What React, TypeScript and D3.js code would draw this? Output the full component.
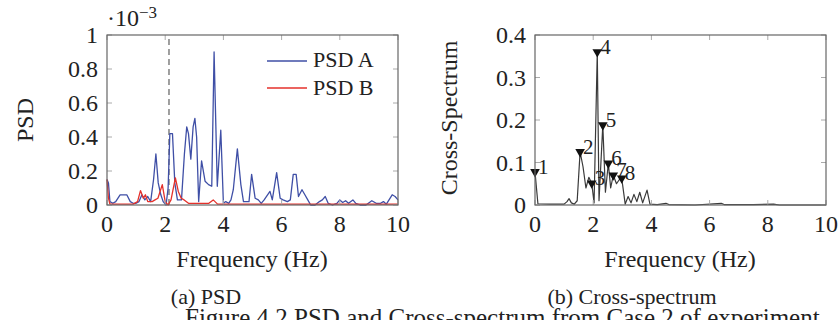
import React from "react";
import * as d3 from "d3";

// ---------- Data ----------
const psdAFreq = [0, 0.05, 0.1, 0.2, 0.3, 0.45, 0.55, 0.68, 0.8, 0.9, 1.0, 1.1, 1.2, 1.3, 1.4, 1.5, 1.6, 1.68, 1.76, 1.85, 1.93, 2.03, 2.1, 2.16, 2.25, 2.33, 2.42, 2.56, 2.66, 2.74, 2.8, 2.88, 2.96, 3.02, 3.08, 3.15, 3.25, 3.37, 3.49, 3.6, 3.68, 3.79, 3.91, 4.0, 4.08, 4.18, 4.26, 4.34, 4.48, 4.6, 4.69, 4.8, 4.88, 4.97, 5.09, 5.2, 5.3, 5.4, 5.6, 5.68, 5.83, 5.95, 6.05, 6.2, 6.3, 6.4, 6.5, 6.58, 6.7, 6.8, 6.9, 7.0, 7.15, 7.3, 7.4, 7.5, 7.6, 7.75, 7.9, 8.0, 8.1, 8.2, 8.3, 8.45, 8.55, 8.7, 8.9, 9.1, 9.25, 9.4, 9.5, 9.6, 9.8, 9.9, 10.0];
const psdAValues = [0.15, 0.13, 0.02, 0.01, 0.02, 0.06, 0.06, 0.06, 0.02, 0.01, 0.01, 0.02, 0.06, 0.03, 0.05, 0.02, 0.15, 0.30, 0.13, 0.06, 0.02, 0.0, 0.10, 0.42, 0.42, 0.13, 0.03, 0.03, 0.3, 0.46, 0.42, 0.27, 0.46, 0.51, 0.4, 0.02, 0.26, 0.14, 0.12, 0.11, 0.90, 0.11, 0.44, 0.01, 0.02, 0.01, 0.03, 0.09, 0.33, 0.12, 0.02, 0.02, 0.02, 0.18, 0.04, 0.03, 0.01, 0.03, 0.08, 0.03, 0.19, 0.04, 0.03, 0.02, 0.03, 0.18, 0.18, 0.05, 0.09, 0.06, 0.03, 0.0, 0.0, 0.02, 0.03, 0.05, 0.01, 0.0, 0.01, 0.03, 0.015, 0.025, 0.01, 0.03, 0.01, 0.0, 0.0, 0.025, 0.01, 0.01, 0.02, 0.005, 0.06, 0.05, 0.03];

const psdBFreq = [0, 0.05, 0.1, 0.3, 0.6, 0.9, 1.05, 1.15, 1.25, 1.32, 1.4, 1.55, 1.65, 1.75, 1.9, 2.0, 2.1, 2.2, 2.35, 2.45, 2.55, 2.65, 2.8, 3.0, 3.5, 3.65, 3.8, 4.2, 5, 6, 7, 8, 9, 10];
const psdBValues = [0.15, 0.04, 0.005, 0.005, 0.005, 0.005, 0.02, 0.085, 0.04, 0.06, 0.02, 0.02, 0.03, 0.04, 0.12, 0.02, 0.0, 0.03, 0.16, 0.08, 0.04, 0.03, 0.01, 0.01, 0.01, 0.03, 0.005, 0.005, 0.005, 0.005, 0.005, 0.005, 0.005, 0.005];

const crossFreq = [0, 0.1, 0.5, 1.0, 1.1, 1.17, 1.25, 1.35, 1.45, 1.55, 1.65, 1.75, 1.85, 1.95, 2.03, 2.14, 2.2, 2.33, 2.42, 2.52, 2.6, 2.69, 2.8, 2.9, 2.98, 3.1, 3.2, 3.3, 3.4, 3.5, 3.6, 3.7, 3.85, 3.95, 4.2, 4.5, 4.6, 5.5, 6.4, 6.5, 7.5, 8.2, 8.4, 10];
const crossValues = [0.078, 0.003, 0.002, 0.002, 0.008, 0.015, 0.005, 0.002, 0.01, 0.125, 0.09, 0.04, 0.065, 0.051, 0.005, 0.36, 0.01, 0.188, 0.03, 0.098, 0.04, 0.07, 0.05, 0.06, 0.063, 0.002, 0.02, 0.005, 0.025, 0.008, 0.03, 0.005, 0.035, 0.002, 0.001, 0.004, 0.001, 0.0, 0.004, 0.001, 0.001, 0.002, 0.0, 0.0];

const peakFreq = [0.0, 1.55, 1.95, 2.14, 2.33, 2.52, 2.69, 2.98];
const peakValues = [0.078, 0.125, 0.051, 0.36, 0.188, 0.098, 0.07, 0.063];
const peakLabels = ["1", "2", "3", "4", "5", "6", "7", "8"];

const xTicks = [0, 2, 4, 6, 8, 10];
const psdYTicks = [0, 0.2, 0.4, 0.6, 0.8, 1];
const psdYTickLabels = ["0", "0.2", "0.4", "0.6", "0.8", "1"];
const crossYTicks = [0, 0.1, 0.2, 0.3, 0.4];
const crossYTickLabels = ["0", "0.1", "0.2", "0.3", "0.4"];
const legendLabels = ["PSD A", "PSD B"];
const dashedFreq = 2.13;

const FONT = "'Liberation Serif', 'Times New Roman', serif";
const BLUE = "#3f4fa6";
const RED = "#e4312b";

type PanelProps = {
  x0: number;
  x1: number;
  y0: number;
  y1: number;
  yDomain: [number, number];
  yTicks: number[];
  yTickLabels: string[];
  children: (xs: d3.ScaleLinear<number, number>, ys: d3.ScaleLinear<number, number>) => React.ReactNode;
};

function Panel({ x0, x1, y0, y1, yDomain, yTicks, yTickLabels, children }: PanelProps) {
  const xs = d3.scaleLinear().domain([0, 10]).range([x0, x1]);
  const ys = d3.scaleLinear().domain(yDomain).range([y0, y1]);
  const tl = 5;
  return (
    <g>
      {children(xs, ys)}
      {xTicks.map((t) => (
        <g key={"xt" + t}>
          <line x1={xs(t)} x2={xs(t)} y1={y0} y2={y0 - tl} stroke="#aaa" strokeWidth={1} />
          <line x1={xs(t)} x2={xs(t)} y1={y1} y2={y1 + tl} stroke="#aaa" strokeWidth={1} />
          <text x={xs(t)} y={y0 + 27} textAnchor="middle" fontFamily={FONT} fontSize={24} fill="#222">
            {t}
          </text>
        </g>
      ))}
      {yTicks.map((t, i) => (
        <g key={"yt" + t}>
          <line x1={x0} x2={x0 + tl} y1={ys(t)} y2={ys(t)} stroke="#aaa" strokeWidth={1} />
          <line x1={x1} x2={x1 - tl} y1={ys(t)} y2={ys(t)} stroke="#aaa" strokeWidth={1} />
          <text x={x0 - 9} y={ys(t) + 8} textAnchor="end" fontFamily={FONT} fontSize={24} fill="#222">
            {yTickLabels[i]}
          </text>
        </g>
      ))}
      <rect x={x0} y={y1} width={x1 - x0} height={y0 - y1} fill="none" stroke="#666" strokeWidth={1.2} />
    </g>
  );
}

export default function App() {
  const psdA = psdAFreq.map((f, i) => [f, psdAValues[i]] as [number, number]);
  const psdB = psdBFreq.map((f, i) => [f, psdBValues[i]] as [number, number]);
  const cross = crossFreq.map((f, i) => [f, crossValues[i]] as [number, number]);

  return (
    <svg width={840} height={320} style={{ position: "absolute", left: 0, top: 0, background: "#fff" }}>
      <rect width={840} height={320} fill="#fff" />
      {/* Left panel: PSD */}
      <Panel x0={107} x1={398} y0={205} y1={35} yDomain={[0, 1]} yTicks={psdYTicks} yTickLabels={psdYTickLabels}>
        {(xs, ys) => {
          const line = d3.line<[number, number]>().x((d) => xs(d[0])).y((d) => ys(d[1]));
          return (
            <g>
              <line x1={xs(dashedFreq)} x2={xs(dashedFreq)} y1={ys(0)} y2={ys(1)} stroke="#888" strokeWidth={1.6} strokeDasharray="6,4" />
              <path d={line(psdA) || ""} fill="none" stroke={BLUE} strokeWidth={1.3} strokeLinejoin="round" />
              <path d={line(psdB) || ""} fill="none" stroke={RED} strokeWidth={1.3} strokeLinejoin="round" />
              <line x1={267} x2={307} y1={61} y2={61} stroke={BLUE} strokeWidth={1.3} />
              <line x1={267} x2={307} y1={88} y2={88} stroke={RED} strokeWidth={1.3} />
              <text x={313} y={67} fontFamily={FONT} fontSize={22} fill="#222">{legendLabels[0]}</text>
              <text x={313} y={95} fontFamily={FONT} fontSize={22} fill="#222">{legendLabels[1]}</text>
            </g>
          );
        }}
      </Panel>
      <text x={107} y={26} fontFamily={FONT} fontSize={24} fill="#222">
        ·10<tspan dy={-8} fontSize={17}>−3</tspan>
      </text>
      <text transform="translate(33,120) rotate(-90)" textAnchor="middle" fontFamily={FONT} fontSize={24} fill="#222">PSD</text>
      <text x={252} y={267} textAnchor="middle" fontFamily={FONT} fontSize={24} fill="#222">Frequency (Hz)</text>
      <text x={206} y={304} textAnchor="middle" fontFamily={FONT} fontSize={22} fill="#222">(a) PSD</text>

      {/* Right panel: Cross-spectrum */}
      <Panel x0={535} x1={826} y0={205} y1={35} yDomain={[0, 0.4]} yTicks={crossYTicks} yTickLabels={crossYTickLabels}>
        {(xs, ys) => {
          const line = d3.line<[number, number]>().x((d) => xs(d[0])).y((d) => ys(d[1]));
          const tri = d3.symbol().type(d3.symbolTriangle).size(40);
          return (
            <g>
              <path d={line(cross) || ""} fill="none" stroke="#3a3a3a" strokeWidth={1.2} strokeLinejoin="round" />
              {peakFreq.map((f, i) => (
                <g key={"pk" + i}>
                  <path d={tri() || ""} transform={`translate(${xs(f)},${ys(peakValues[i])}) rotate(180)`} fill="#111" />
                  <text x={xs(f) + 3} y={ys(peakValues[i]) + 2} fontFamily={FONT} fontSize={21} fill="#222">
                    {peakLabels[i]}
                  </text>
                </g>
              ))}
            </g>
          );
        }}
      </Panel>
      <text transform="translate(457,118) rotate(-90)" textAnchor="middle" fontFamily={FONT} fontSize={24} fill="#222">Cross-Spectrum</text>
      <text x={680} y={267} textAnchor="middle" fontFamily={FONT} fontSize={24} fill="#222">Frequency (Hz)</text>
      <text x={632} y={304} textAnchor="middle" fontFamily={FONT} fontSize={22} fill="#222">(b) Cross-spectrum</text>

      <text x={185} y={326} fontFamily={FONT} fontSize={25} fill="#222">Figure 4.2 PSD and Cross-spectrum from Case 2 of experiment</text>
    </svg>
  );
}
